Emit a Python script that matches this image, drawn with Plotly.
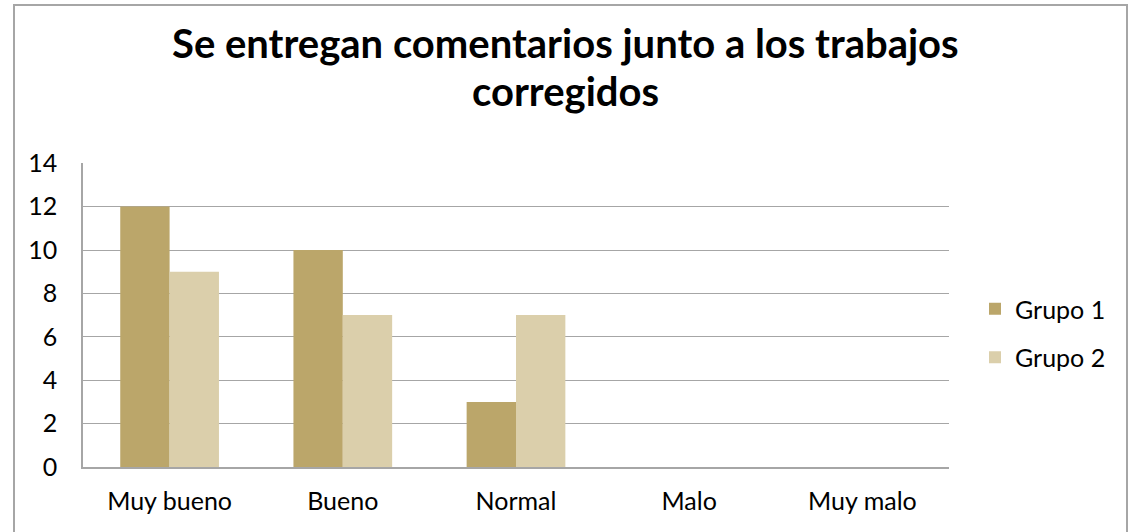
import plotly.graph_objects as go

categories = ["Muy bueno", "Bueno", "Normal", "Malo", "Muy malo"]
grupo1 = [12, 10, 3, 0, 0]
grupo2 = [9, 7, 7, 0, 0]
tick_vals = [0, 2, 4, 6, 8, 10, 12, 14]
title_lines = ["Se entregan comentarios junto a los trabajos", "corregidos"]

FONT = "Lato, 'Open Sans', sans-serif"

fig = go.Figure()
fig.add_trace(go.Bar(name="Grupo 1", x=categories, y=grupo1, marker_color="#BBA66A",
                     marker_line_width=0, legendgroup="g1"))
fig.add_trace(go.Bar(name="Grupo 2", x=categories, y=grupo2, marker_color="#DBCFAB",
                     marker_line_width=0, legendgroup="g2"))

W, H = 1130, 532
L, R, T, B = 83, 949, 163, 467
fig.update_layout(
    width=W, height=H,
    margin=dict(l=L, r=W - R, t=T, b=H - B, autoexpand=False),
    paper_bgcolor="white", plot_bgcolor="white",
    barmode="group", bargap=0.43, bargroupgap=0,
    font=dict(family=FONT, size=25, color="#000000"),
    legend=dict(xref="container", yref="container", x=975 / W, y=1 - 333 / H,
                xanchor="left", yanchor="middle",
                font=dict(size=25), tracegroupgap=13, itemwidth=30,
                bgcolor="rgba(0,0,0,0)"),
    showlegend=True,
)
for i, line in enumerate(title_lines):
    fig.add_annotation(text="<b>" + line + "</b>", xref="paper", yref="paper",
                       x=0.5 * (1130 - 2 * L) / (R - L), y=(B - [43, 91][i]) / (B - T),
                       xanchor="center", yanchor="middle", showarrow=False,
                       font=dict(family=FONT, size=40, color="#000000"))
fig.update_xaxes(showline=True, linecolor="#A6A6A6", linewidth=1.5, ticks="", showgrid=False,
                 tickfont=dict(size=25), ticklabelstandoff=11)
fig.update_yaxes(range=[0, 14.01], tickvals=tick_vals, showgrid=True, gridcolor="#A6A6A6", gridwidth=1.3,
                 showline=True, linecolor="#A6A6A6", linewidth=1.5, ticks="", tickfont=dict(size=25),
                 zeroline=False, ticklabelstandoff=19)
fig.add_shape(type="rect", xref="paper", yref="paper",
              x0=(14 - L) / (R - L), x1=(1127 - L) / (R - L),
              y0=(B - 540) / (B - T), y1=(B - 5) / (B - T),
              line=dict(color="#A6A6A6", width=2), layer="below")
fig.write_html("out.html", config={"displayModeBar": False},
               post_script="document.body.style.margin='0';document.body.style.overflow='hidden';")
